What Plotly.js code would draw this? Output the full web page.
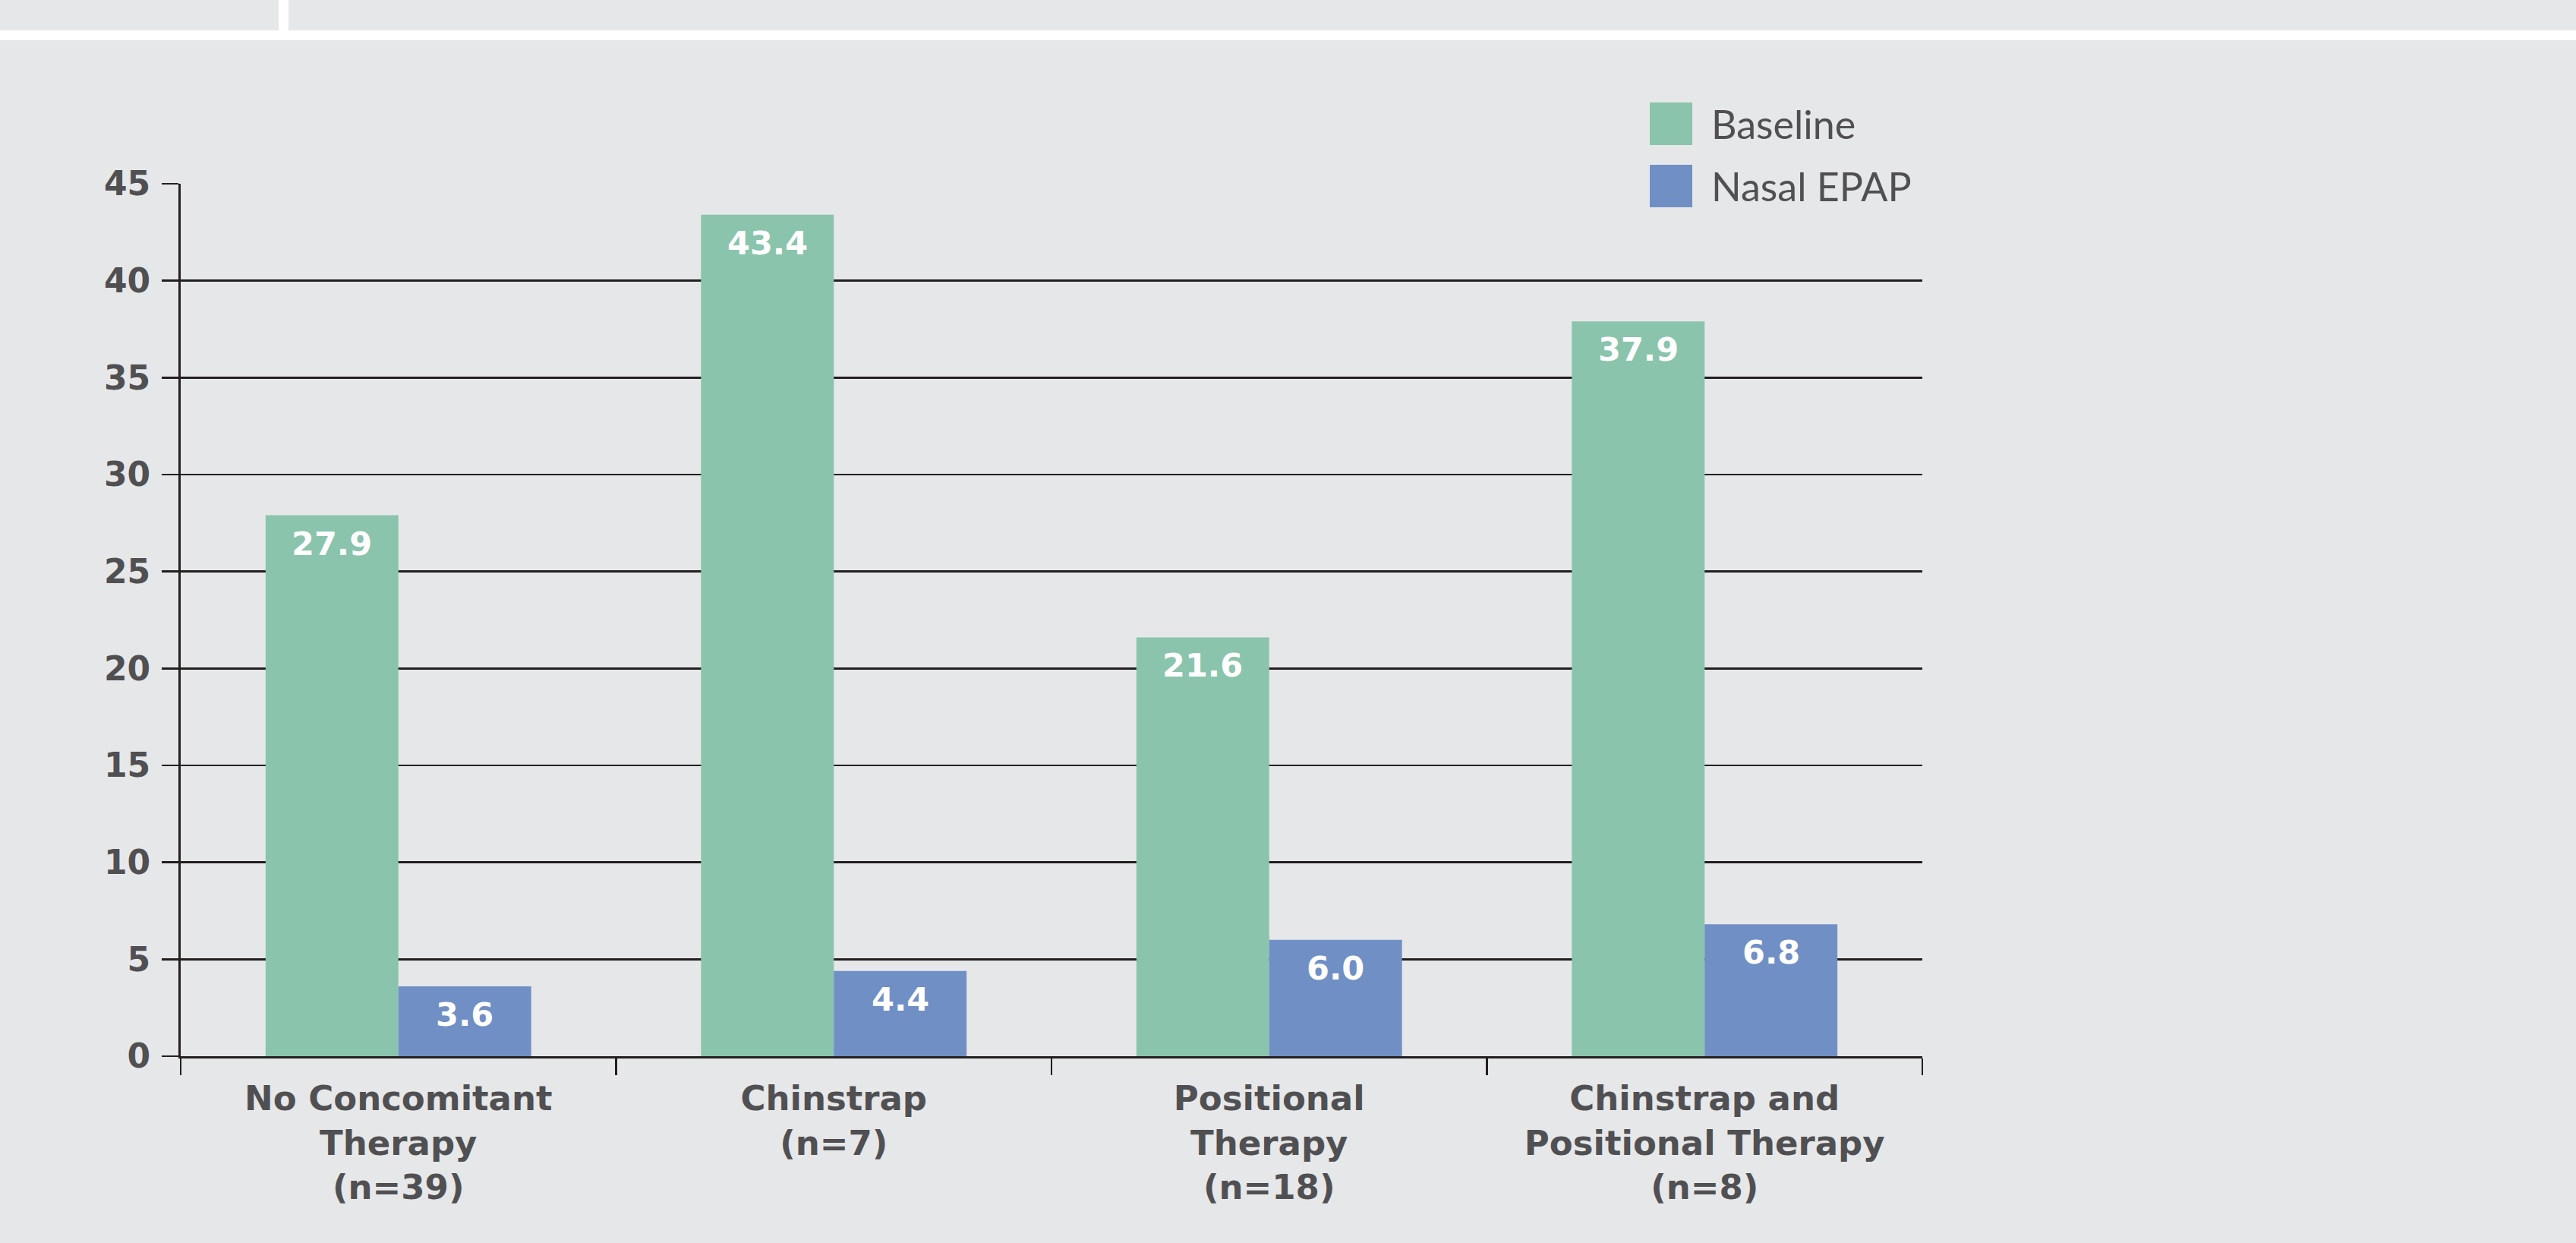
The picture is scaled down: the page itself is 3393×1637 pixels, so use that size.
<!DOCTYPE html>
<html>
<head>
<meta charset="utf-8">
<script src="https://cdn.plot.ly/plotly-3.0.1.min.js"></script>
<style>
  html, body { margin: 0; padding: 0; background: #e6e7e9; }
  #chart { width: 3393px; height: 1637px; }
</style>
</head>
<body>
<div id="chart"></div>
<script>
// Therapy groups shown along the x axis
const categories = [
  "No Concomitant<br>Therapy<br>(n=39)",
  "Chinstrap<br>(n=7)",
  "Positional<br>Therapy<br>(n=18)",
  "Chinstrap and<br>Positional Therapy<br>(n=8)"
];
const seriesNames = ["Baseline", "Nasal EPAP"];
const baselineValues = [27.9, 43.4, 21.6, 37.9];
const epapValues = [3.6, 4.4, 6.0, 6.8];
const yTickValues = [0, 5, 10, 15, 20, 25, 30, 35, 40, 45];

const GREEN = "#8ac4ac";
const BLUE = "#708fc5";
const BG = "#e6e7e9";
const INK = "#231f20";
const LABEL = "#505052";
const BOLD_FONT = "'DejaVu Sans', sans-serif";
const BOOK_FONT = "Lato, 'Open Sans', sans-serif";

// plot area geometry (pixels)
const W = 3393, H = 1637;
const M = { l: 238, r: 861, t: 242, b: 246 };
const plotW = W - M.l - M.r;
const plotH = H - M.t - M.b;
const BARGAP = 0.39;
const barPx = plotW / categories.length * (1 - BARGAP) / 2;

const traces = [
  {
    type: "bar", name: seriesNames[0], x: categories, y: baselineValues,
    marker: { color: GREEN, line: { width: 0 } }, showlegend: false, hoverinfo: "skip"
  },
  {
    type: "bar", name: seriesNames[1], x: categories, y: epapValues,
    marker: { color: BLUE, line: { width: 0 } }, showlegend: false, hoverinfo: "skip"
  }
];

// value labels placed inside the top of each bar
const annotations = [];
[baselineValues, epapValues].forEach((vals, si) => {
  vals.forEach((v, i) => {
    annotations.push({
      x: categories[i], y: v, xref: "x", yref: "y",
      xshift: (si === 0 ? -1 : 1) * barPx / 2,
      yshift: -37, yanchor: "middle", xanchor: "center",
      text: "<b>" + v.toFixed(1) + "</b>", showarrow: false,
      font: { family: BOLD_FONT, size: 43, color: "#ffffff" }
    });
  });
});

// helpers converting page pixels to paper coordinates
const px = v => (v - M.l) / plotW;
const py = v => (H - M.b - v) / plotH;

// legend: colour swatches with labels
const legendRows = [
  { name: seriesNames[0], color: GREEN, top: 135 },
  { name: seriesNames[1], color: BLUE, top: 217 }
];
const shapes = [];
legendRows.forEach(r => {
  shapes.push({
    type: "rect", xref: "paper", yref: "paper",
    x0: px(2173), x1: px(2229), y0: py(r.top + 56), y1: py(r.top),
    fillcolor: r.color, line: { width: 0 }
  });
  annotations.push({
    xref: "paper", yref: "paper", x: px(2252), y: py(r.top + 28),
    xanchor: "left", yanchor: "middle", showarrow: false,
    text: r.name, font: { family: BOOK_FONT, size: 52, color: LABEL }
  });
});

// header band: white rule and divider
shapes.push({
  type: "rect", xref: "paper", yref: "paper", layer: "below",
  x0: px(0), x1: px(W), y0: py(53), y1: py(40),
  fillcolor: "#ffffff", line: { width: 0 }
});
shapes.push({
  type: "rect", xref: "paper", yref: "paper", layer: "below",
  x0: px(367), x1: px(380), y0: py(40), y1: py(0),
  fillcolor: "#ffffff", line: { width: 0 }
});

const layout = {
  width: W, height: H,
  margin: M,
  paper_bgcolor: BG, plot_bgcolor: BG,
  barmode: "group", bargap: BARGAP, bargroupgap: 0,
  showlegend: false,
  font: { family: BOLD_FONT, color: LABEL },
  xaxis: {
    type: "category",
    tickson: "boundaries",
    ticks: "outside", ticklen: 22, tickwidth: 2.5, tickcolor: INK,
    showline: true, linecolor: INK, linewidth: 3,
    showgrid: false, zeroline: false,
    tickfont: { family: BOLD_FONT, size: 45, color: LABEL, weight: "bold" },
    ticklabelstandoff: 14,
    fixedrange: true
  },
  yaxis: {
    range: [0, 45],
    tickvals: yTickValues,
    ticks: "outside", ticklen: 22, tickwidth: 2.5, tickcolor: INK,
    showline: true, linecolor: INK, linewidth: 3,
    showgrid: true, gridcolor: INK, gridwidth: 2.5,
    zeroline: false,
    tickfont: { family: BOLD_FONT, size: 44, color: LABEL, weight: "bold" },
    ticklabelstandoff: 6,
    fixedrange: true
  },
  annotations: annotations,
  shapes: shapes
};

Plotly.newPlot("chart", traces, layout, { staticPlot: true, displayModeBar: false });
</script>
</body>
</html>
